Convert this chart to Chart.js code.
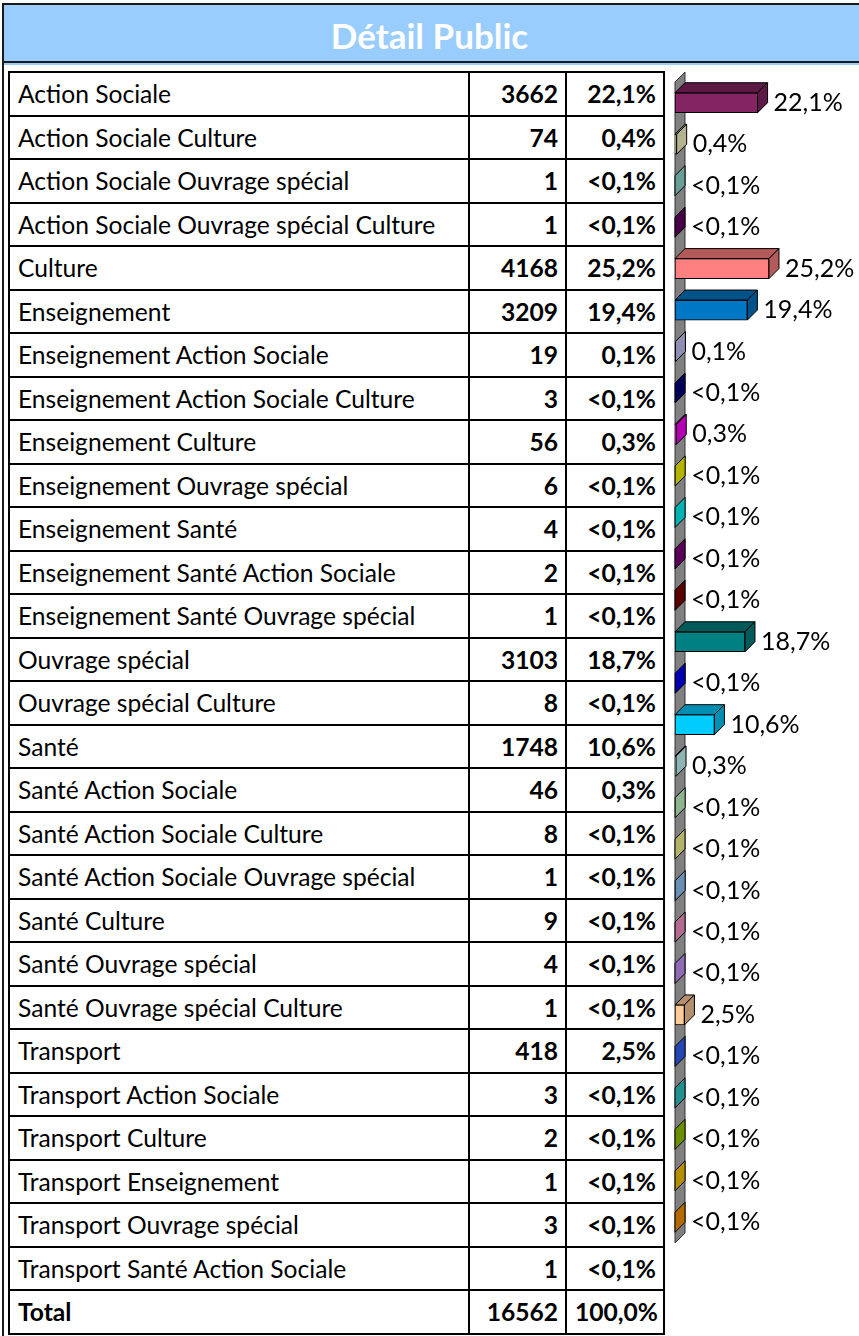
<!DOCTYPE html>
<html lang="fr">
<head>
<meta charset="utf-8">
<title>Détail Public</title>
<script src="https://cdn.jsdelivr.net/npm/chart.js@4.4.1/dist/chart.umd.min.js"></script>
<style>
  html, body { margin: 0; padding: 0; background: #fff; }
  body { position: relative; width: 859px; height: 1336px; overflow: hidden; font-family: Lato, "Liberation Sans", sans-serif; color: #000; }
  #frame { position: absolute; left: 2px; top: 3px; width: 900px; height: 1400px; border-left: 2px solid #1a1a1a; border-top: 2px solid #1a1a1a; }
  #title { position: absolute; left: 4px; top: 5px; width: 851px; padding-right: 9px; height: 56px; background: #99ccff;
           border-bottom: 2px solid #1a1a1a; box-shadow: 0 2px 0 #99ccff; color: #fff; font-weight: bold; font-size: 35px;
           line-height: 60px; text-align: center; }
  #tbl { position: absolute; left: 8px; top: 71px; border-collapse: collapse; table-layout: fixed; width: 655px; font-size: 24.6px; }
  #tbl tr { height: 43.5px; }
  #tbl td { border: 2px solid #000; padding: 0 8px; white-space: nowrap; overflow: hidden; }
  #tbl td.num { text-align: right; font-weight: bold; padding-right: 7px; }
  #tbl tr.total td { font-weight: bold; }
  #bars { position: absolute; left: 660px; top: 62px; }
</style>
</head>
<body>
<div id="frame"></div>
<div id="title">Détail Public</div>
<table id="tbl">
  <colgroup><col style="width:460px"><col style="width:97px"><col style="width:98px"></colgroup>
  <tbody></tbody>
</table>
<canvas id="bars" width="199" height="1274"></canvas>

<script>
const categories = [
  "Action Sociale", "Action Sociale Culture", "Action Sociale Ouvrage spécial",
  "Action Sociale Ouvrage spécial Culture", "Culture", "Enseignement",
  "Enseignement Action Sociale", "Enseignement Action Sociale Culture", "Enseignement Culture",
  "Enseignement Ouvrage spécial", "Enseignement Santé", "Enseignement Santé Action Sociale",
  "Enseignement Santé Ouvrage spécial", "Ouvrage spécial", "Ouvrage spécial Culture",
  "Santé", "Santé Action Sociale", "Santé Action Sociale Culture",
  "Santé Action Sociale Ouvrage spécial", "Santé Culture", "Santé Ouvrage spécial",
  "Santé Ouvrage spécial Culture", "Transport", "Transport Action Sociale",
  "Transport Culture", "Transport Enseignement", "Transport Ouvrage spécial",
  "Transport Santé Action Sociale"
];
const counts = [3662, 74, 1, 1, 4168, 3209, 19, 3, 56, 6, 4, 2, 1, 3103, 8, 1748, 46, 8, 1, 9, 4, 1, 418, 3, 2, 1, 3, 1];
const shares = ["22,1%", "0,4%", "<0,1%", "<0,1%", "25,2%", "19,4%", "0,1%", "<0,1%", "0,3%", "<0,1%",
  "<0,1%", "<0,1%", "<0,1%", "18,7%", "<0,1%", "10,6%", "0,3%", "<0,1%", "<0,1%", "<0,1%",
  "<0,1%", "<0,1%", "2,5%", "<0,1%", "<0,1%", "<0,1%", "<0,1%", "<0,1%"];
const totalLabel = "Total";
const totalCount = 16562;
const totalShare = "100,0%";

const barColors = ["#852462", "#ffffcc", "#99e0d8", "#660066", "#ff8080", "#0077c4", "#ccccff", "#000080",
  "#ff00ff", "#ffff00", "#00ffff", "#800080", "#800000", "#008080", "#0000ff", "#00ccff",
  "#ccffff", "#ccffcc", "#ffff99", "#99ccff", "#ff99cc", "#cc99ff", "#ffcc99", "#3366ff",
  "#33cccc", "#99cc00", "#ffcc00", "#ff9900"];

// table
const tbody = document.querySelector("#tbl tbody");
function addRow(label, n, pct, cls) {
  const tr = document.createElement("tr");
  if (cls) tr.className = cls;
  tr.innerHTML = `<td>${label}</td><td class="num">${n}</td><td class="num">${pct}</td>`;
  tbody.appendChild(tr);
}
categories.forEach((c, i) => addRow(c, counts[i], shares[i]));
addRow(totalLabel, totalCount, totalShare, "total");

// 3D bars
const DEPTH = 10;
function shade(hex, f) {
  const v = parseInt(hex.slice(1), 16);
  const r = Math.round(((v >> 16) & 255) * f), g = Math.round(((v >> 8) & 255) * f), b = Math.round((v & 255) * f);
  return `rgb(${r},${g},${b})`;
}
function poly(ctx, pts, fill, stroke) {
  ctx.beginPath();
  ctx.moveTo(pts[0][0], pts[0][1]);
  for (let k = 1; k < pts.length; k++) ctx.lineTo(pts[k][0], pts[k][1]);
  ctx.closePath();
  ctx.fillStyle = fill;
  ctx.fill();
  ctx.strokeStyle = stroke;
  ctx.stroke();
}

const bar3d = {
  id: "bar3d",
  beforeDatasetsDraw(chart) {
    const { ctx, chartArea: a } = chart;
    ctx.save();
    ctx.lineWidth = 1;
    poly(ctx, [[a.left, a.bottom], [a.left, a.top], [a.left + DEPTH, a.top - DEPTH], [a.left + DEPTH, a.bottom - DEPTH]],
      "#808080", "#333");
    ctx.restore();
  },
  afterDatasetsDraw(chart) {
    const ctx = chart.ctx;
    const meta = chart.getDatasetMeta(0);
    ctx.save();
    ctx.lineWidth = 1;
    meta.data.forEach((bar, i) => {
      const { x, y, base, height } = bar.getProps(["x", "y", "base", "height"], true);
      const top = y - height / 2, bottom = y + height / 2;
      const dark = shade(barColors[i], 0.7);
      if (x - base > 1) {
        poly(ctx, [[base, top], [x, top], [x + DEPTH, top - DEPTH], [base + DEPTH, top - DEPTH]], dark, "#000");
      }
      poly(ctx, [[x, top], [x, bottom], [x + DEPTH, bottom - DEPTH], [x + DEPTH, top - DEPTH]], dark, "#000");

      ctx.fillStyle = "#000";
      ctx.font = "25px Lato, sans-serif";
      ctx.textAlign = "left";
      ctx.textBaseline = "alphabetic";
      ctx.fillText(shares[i], x + DEPTH + 6, y + 8);
    });
    ctx.restore();
  }
};

new Chart(document.getElementById("bars"), {
  type: "bar",
  data: {
    labels: categories,
    datasets: [{
      data: counts,
      backgroundColor: barColors,
      borderColor: "#000",
      borderWidth: 1,
      borderSkipped: false,
      barThickness: 20
    }]
  },
  options: {
    indexAxis: "y",
    responsive: false,
    animation: false,
    devicePixelRatio: 1,
    layout: { padding: { left: 15, top: 20, right: 0, bottom: 93 } },
    scales: {
      x: { display: false, min: 0, max: 8160 },
      y: { display: false }
    },
    plugins: { legend: { display: false }, tooltip: { enabled: false } }
  },
  plugins: [bar3d]
});
</script>
</body>
</html>
